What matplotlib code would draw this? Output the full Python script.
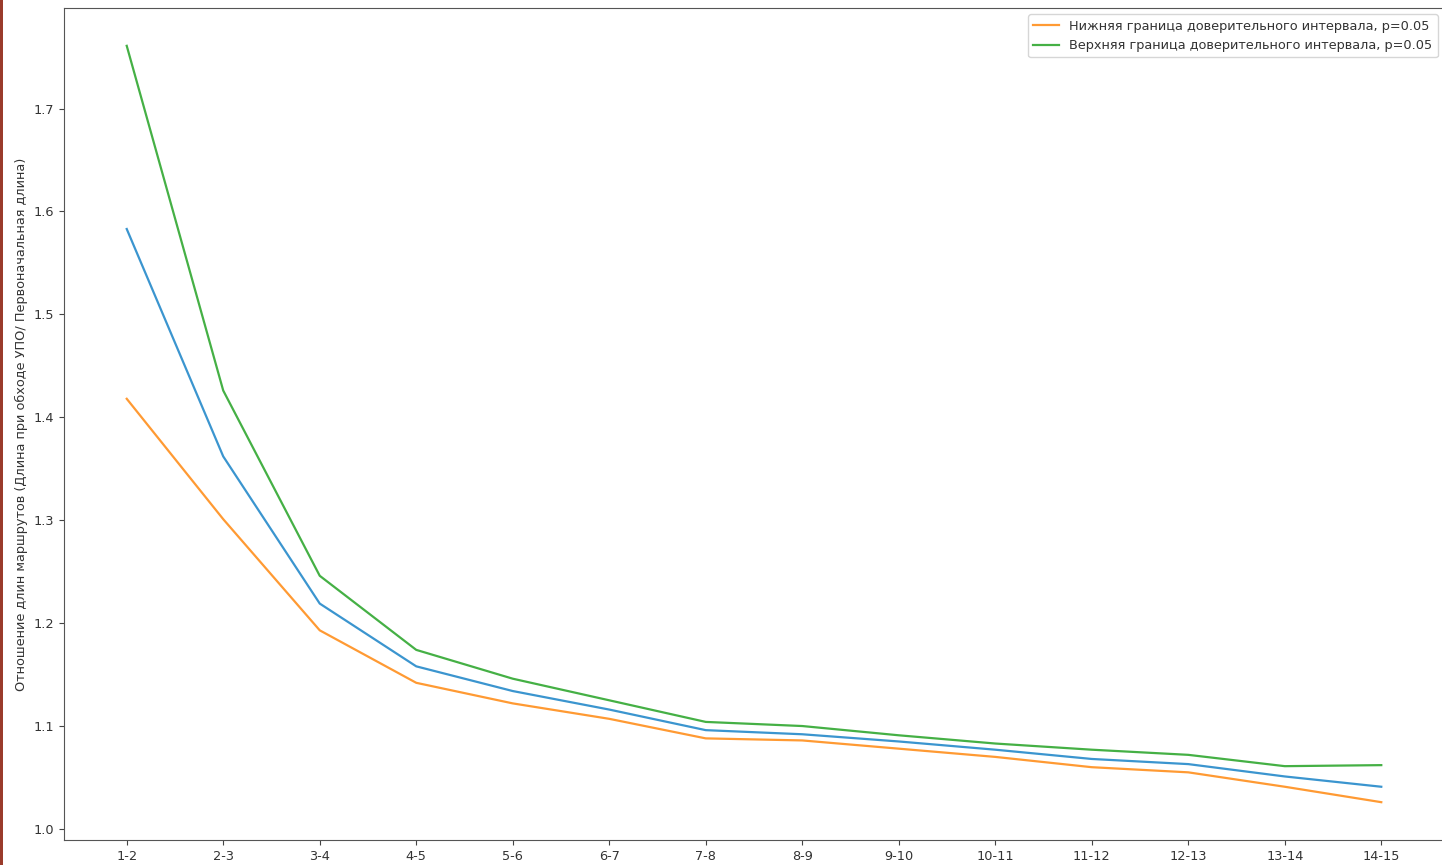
import matplotlib
matplotlib.use("Agg")
import matplotlib.pyplot as plt
from matplotlib.patches import Rectangle

categories = ["1-2", "2-3", "3-4", "4-5", "5-6", "6-7", "7-8", "8-9", "9-10",
              "10-11", "11-12", "12-13", "13-14", "14-15"]
mean_vals = [1.583, 1.362, 1.219, 1.158, 1.134, 1.116, 1.096, 1.092, 1.085,
             1.077, 1.068, 1.063, 1.051, 1.041]
lower_vals = [1.418, 1.301, 1.193, 1.142, 1.122, 1.107, 1.088, 1.086, 1.078,
              1.070, 1.060, 1.055, 1.041, 1.026]
upper_vals = [1.761, 1.426, 1.246, 1.174, 1.146, 1.125, 1.104, 1.100, 1.091,
              1.083, 1.077, 1.072, 1.061, 1.062]

label_lower = "Нижняя граница доверительного интервала, p=0.05"
label_upper = "Верхняя граница доверительного интервала, p=0.05"
ylabel = "Отношение длин маршрутов (Длина при обходе УПО/ Первоначальная длина)"

plt.rcParams["font.size"] = 9.3
plt.rcParams["text.color"] = "#333333"
plt.rcParams["xtick.color"] = "#444444"
plt.rcParams["ytick.color"] = "#444444"
plt.rcParams["xtick.labelcolor"] = "#333333"
plt.rcParams["ytick.labelcolor"] = "#333333"
plt.rcParams["axes.labelcolor"] = "#333333"
plt.rcParams["axes.edgecolor"] = "#555555"

W, H = 1442, 865
fig = plt.figure(figsize=(W / 100, H / 100), dpi=100)
ax = fig.add_axes([64 / W, (H - 840) / H, (1444 - 64) / W, (840 - 8) / H])

ax.plot(categories, mean_vals, color="#3b95cf", lw=1.6)
ax.plot(categories, lower_vals, color="#ff9a33", lw=1.6, label=label_lower)
ax.plot(categories, upper_vals, color="#45b045", lw=1.6, label=label_upper)

ax.set_ylabel(ylabel)
ax.legend(loc="upper right")

# left-edge strip from the screenshot
fig.patches.append(Rectangle((0, 0), 3 / W, 1, transform=fig.transFigure,
                             facecolor="#9a3b2b", edgecolor="none"))

fig.savefig("out.png", dpi=100)
